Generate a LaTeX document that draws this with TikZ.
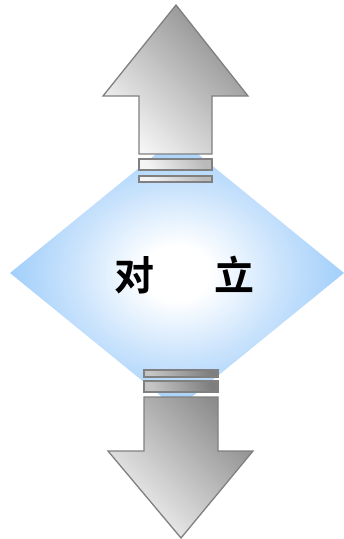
\documentclass[tikz,border=0pt]{standalone}
\usepackage{fontspec}
\newfontfamily\cjk{Noto Sans CJK SC Bold}
\definecolor{edgeblue}{RGB}{140,196,250}
\definecolor{midblue}{RGB}{200,226,252}
\definecolor{arrowline}{RGB}{128,128,128}
\definecolor{greydark}{RGB}{140,140,140}
\definecolor{greylight}{RGB}{245,245,245}
\pgfdeclareradialshading{diamshade}{\pgfpoint{0bp}{0bp}}{%
  color(0bp)=(white); color(5bp)=(white); color(16bp)=(midblue); color(30bp)=(edgeblue); color(50bp)=(edgeblue)}
\tikzset{
  greyarrow/.style={draw=arrowline, line width=1.3pt, line join=miter,
    top color=greydark, bottom color=greylight, shading angle=-45},
  lightbar/.style={draw=arrowline, line width=1.1pt,
    top color=greydark!60, bottom color=greylight, shading angle=-60},
  darkbar/.style={draw=arrowline, line width=1.1pt,
    top color=greydark!90!black, bottom color=greydark!50, shading angle=-70},
  lbl/.style={font=\cjk\fontsize{40}{40}\selectfont, text=black, inner sep=0pt}
}
\begin{document}
\begin{tikzpicture}[x=1pt,y=-1pt]
\useasboundingbox (0,0) rectangle (344,539);
% diamond
\path[shading=diamshade] (177,137) -- (344,273) -- (177,409) -- (10,273) -- cycle;
% up arrow
\path[greyarrow] (176,5) -- (248,96) -- (212,96) -- (212,154) -- (139,154) -- (139,96) -- (103,96) -- cycle;
\path[lightbar] (139,159) rectangle (212,170);
\path[lightbar] (139,176) rectangle (212,182);
% down arrow
\path[darkbar] (144,370) rectangle (218,377);
\path[darkbar] (144,381) rectangle (218,392);
\path[greyarrow] (144,397) -- (218,397) -- (218,451) -- (253,451) -- (181,538) -- (108,451) -- (144,451) -- cycle;
% labels
\node[lbl] (t1) at (134,275) {对};
\node[lbl] (t2) at (234,274) {立};
\end{tikzpicture}
\end{document}
